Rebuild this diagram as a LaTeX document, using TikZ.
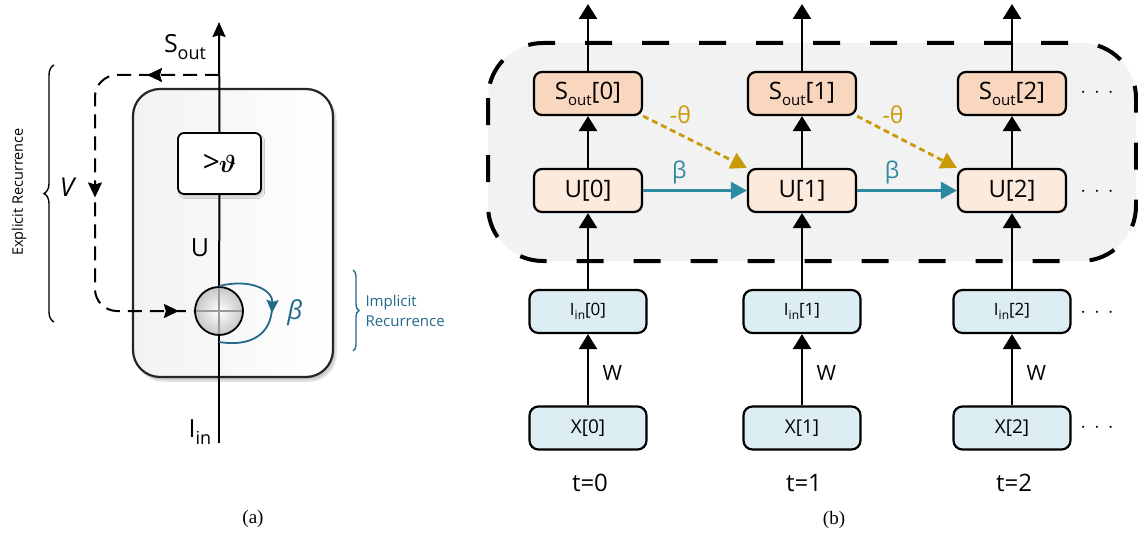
\documentclass[tikz,border=0pt]{standalone}
\usepackage{fontspec}
\usepackage{amsmath}
\usepackage{graphicx}
\setsansfont{Open Sans}
\newfontfamily\capfont{Liberation Serif}
\usetikzlibrary{arrows.meta,shadows.blur,decorations.pathreplacing,decorations.markings,calc}
\definecolor{peachA}{HTML}{F9D6BE}
\definecolor{peachB}{HTML}{FCEADD}
\definecolor{blueA}{HTML}{DCEDF3}
\definecolor{regionfill}{HTML}{F2F2F2}
\definecolor{tealc}{HTML}{2E8AA2}
\definecolor{goldc}{HTML}{C99A06}
\definecolor{steelc}{HTML}{24698A}
\newcommand{\lsub}[2]{\raisebox{-0.25em}{\fontsize{#1}{#1}\selectfont #2}}
\newcommand{\fs}[1]{\fontsize{#1}{#1}\selectfont}
\tikzset{bigtip/.tip={Stealth[length=15pt,width=14pt,inset=2pt]}}
\begin{document}
\begin{tikzpicture}[x=1pt,y=-1pt,
  cellbox/.style={draw=black!85, line width=2.2pt, rounded corners=27pt,
    minimum width=200pt, minimum height=288pt, inner sep=0pt,
    left color=black!5, right color=white,
    blur shadow={shadow xshift=3pt, shadow yshift=-4pt, shadow blur steps=6, shadow opacity=20}},
  thrbox/.style={draw, line width=1.8pt, rounded corners=6pt, fill=white,
    minimum width=83pt, minimum height=61pt, inner sep=0pt, font=\fs{30},
    blur shadow={shadow xshift=2pt, shadow yshift=-3pt, shadow blur steps=5, shadow opacity=20}},
  sumc/.style={circle, draw, line width=1.8pt, minimum size=48pt, inner sep=0pt,
    inner color=white, outer color=black!22},
  mainline/.style={line width=2pt},
  fbline/.style={line width=2pt, dash pattern=on 14pt off 8pt},
  lbl/.style={font=\sffamily\fs{25}},
  region/.style={draw, line width=4pt, dash pattern=on 27pt off 30pt, fill=regionfill, rounded corners=55pt},
  sbox/.style={draw, line width=2.2pt, rounded corners=8pt, minimum width=108pt, minimum height=43pt,
    inner sep=0pt, fill=peachA, font=\sffamily\fs{24}},
  ubox/.style={sbox, fill=peachB},
  ibox/.style={draw, line width=2.2pt, rounded corners=9pt, minimum width=117pt, minimum height=43pt,
    inner sep=0pt, fill=blueA, font=\sffamily\fs{19}},
  carrow/.style={line width=2.6pt, -{Triangle[length=15pt,width=18pt]}},
  tarrow/.style={tealc, line width=2.6pt, -{Triangle[length=16pt,width=17pt]}},
  garrow/.style={goldc, line width=2.8pt, dash pattern=on 6pt off 4pt, -{Triangle[length=16pt,width=17pt]}},
]
\useasboundingbox (0,0) rectangle (1138,535);

% ---------------- panel (a) ----------------
\node[cellbox] (cell) at (233,233) {};
\node[thrbox] (thr) at (219.5,163.5) {{\sffamily >}\kern-1pt$\boldsymbol{\vartheta}$};
\node[sumc] (sum) at (219,311) {};
\coordinate (inb) at (219,443);
\coordinate (outt) at (219,22);
\coordinate (fb) at (219,75);
\coordinate (fbtl) at (95,75);
\coordinate (fbbl) at (95,311);
\coordinate (betaend) at (219,342);
\coordinate (betamid) at (272,313);

\draw[mainline] (inb) -- (sum.south);
\draw[mainline] (sum.north) -- (thr.south);
\draw[mainline, -{Stealth[length=15pt,width=13pt,inset=2pt]}] (thr.north) -- (outt);

\draw[fbline, rounded corners=22pt,
  postaction={decorate, decoration={markings,
    mark=at position 72pt with {\arrow{bigtip}},
    mark=at position 237pt with {\arrow{bigtip}},
    mark=at position 425pt with {\arrow{bigtip}}}}]
  (fb) -- (fbtl) -- (fbbl) -- (sum.west);

\draw[black!40, line width=1.6pt, shorten <=1.5pt, shorten >=1.5pt] (sum.west) -- (sum.east);
\draw[black!40, line width=1.6pt, shorten <=1.5pt, shorten >=1.5pt] (sum.north) -- (sum.south);

\draw[steelc, line width=1.8pt, -{Stealth[length=13pt,width=12pt,inset=2pt]}]
  (sum.north) .. controls (250,278) and (273,290) .. (betamid);
\draw[steelc, line width=1.8pt] (272,306) .. controls (272,335) and (250,347) .. (betaend);

\node[font=\sffamily\itshape\fs{26}, text=steelc] (betaA) at (295,313) {β};
\node[lbl] (soutA) at (185,47) {S\lsub{18}{out}};
\node[lbl] (uA) at (200,248) {U};
\node[lbl] (iinA) at (200,432) {I\lsub{18}{in}};
\node[font=\sffamily\itshape\fs{26}] (vA) at (67,187) {V};

\draw[steelc, line width=1.4pt, decorate, decoration={brace, amplitude=6pt}] (353,270) -- (353,351);
\node[anchor=west, align=left, text=steelc, font=\sffamily\fs{15}] (impl) at (362,311) {Implicit\\[5pt]Recurrence};
\draw[line width=1.4pt, decorate, decoration={brace, amplitude=10pt}] (54,322) -- (54,65);
\node[rotate=90, font=\sffamily\fs{14.5}] (expl) at (19,192) {Explicit Recurrence};

\node[font=\capfont\fs{19}] (capA) at (253,519) {(a)};

% ---------------- panel (b) ----------------
\draw[region] (488,43) rectangle (1136,261);

\foreach \i/\cx in {0/588,1/802,2/1012} {
  \node[sbox] (s\i) at (\cx,93.5) {S\lsub{15}{out}[\i]};
  \node[ubox] (u\i) at (\cx,190.5) {U[\i]};
  \node[ibox] (in\i) at (\cx,311.5) {\fs{17}I\lsub{12}{in}[\i]};
  \node[ibox] (x\i) at (\cx,428) {X[\i]};
  \coordinate (top\i) at (\cx,4);
  \draw[carrow] (s\i.north) -- (top\i);
  \draw[carrow] (u\i.north) -- (s\i.south);
  \draw[carrow] (in\i.north) -- (u\i.south);
  \draw[carrow] (x\i.north) -- (in\i.south)
    node[pos=0.45, anchor=west, xshift=10pt, font=\sffamily\fs{21}] (w\i) {W};
  \node[font=\sffamily\fs{24}] (t\i) at (\cx+2,483) {t=\i};
}

\draw[tarrow] (u0.east) -- (u1.west) node[pos=0.35, yshift=18pt, text=tealc, font=\sffamily\fs{23}] (b0) {β};
\draw[tarrow] (u1.east) -- (u2.west) node[pos=0.35, yshift=18pt, text=tealc, font=\sffamily\fs{23}] (b1) {β};
\draw[garrow] (s0.south east) -- (u1.north west) node[pos=0.36, yshift=20pt, text=goldc, font=\sffamily\fs{23}] (th0) {-θ};
\draw[garrow] (s1.south east) -- (u2.north west) node[pos=0.36, yshift=20pt, text=goldc, font=\sffamily\fs{23}] (th1) {-θ};

\node[font=\fs{22}] (d1) at (1097,93) {$\cdot$\hspace{8pt}$\cdot$\hspace{8pt}$\cdot$};
\node[font=\fs{22}] (d2) at (1097,192) {$\cdot$\hspace{8pt}$\cdot$\hspace{8pt}$\cdot$};
\node[font=\fs{22}] (d3) at (1097,313) {$\cdot$\hspace{8pt}$\cdot$\hspace{8pt}$\cdot$};
\node[font=\fs{22}] (d4) at (1097,428) {$\cdot$\hspace{8pt}$\cdot$\hspace{8pt}$\cdot$};

\node[font=\capfont\fs{19}] (capB) at (834,520) {(b)};
\end{tikzpicture}
\end{document}
